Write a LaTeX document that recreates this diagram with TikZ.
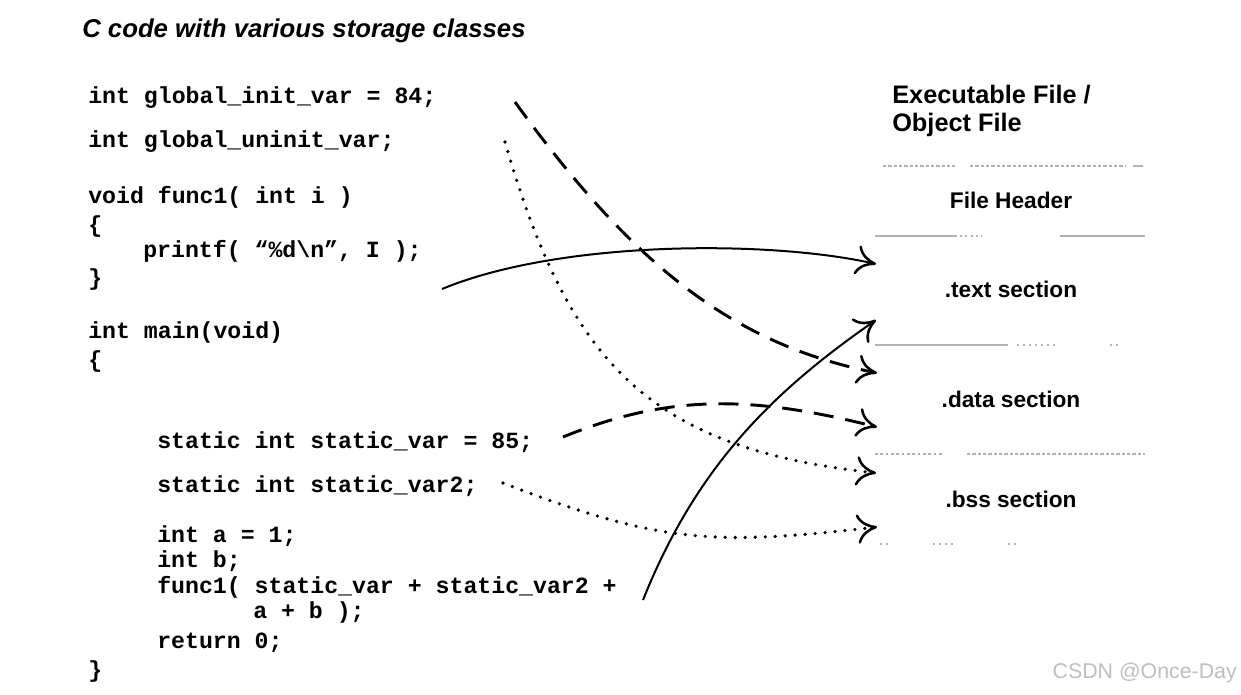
\documentclass[tikz,border=0pt]{standalone}
\usepackage{fontspec}
\setmainfont{Liberation Sans}
\setmonofont{Liberation Mono}
\usetikzlibrary{arrows.meta}
\begin{document}
\begin{tikzpicture}[x=0.75pt,y=-0.75pt,
  code/.style={anchor=base west, inner sep=0pt, font=\ttfamily\bfseries\fontsize{17.4}{20}\selectfont},
  sect/.style={anchor=base, inner sep=0pt, font=\bfseries\fontsize{17}{20}\selectfont},
  head/.style={anchor=base west, inner sep=0pt, font=\bfseries\fontsize{19}{22}\selectfont},
  sepline/.style={draw=gray!60, line width=0.8pt},
  tip/.style={-{To[length=15pt,width=22pt,line width=1.9pt]}},
  solidarrow/.style={tip, line width=1.5pt},
  dashedarrow/.style={tip, line width=2.2pt, dash pattern=on 15pt off 9pt},
  dottedarrow/.style={tip, line width=2.7pt, line cap=round, dash pattern=on 0pt off 7.5pt}
]
\useasboundingbox (0,0) rectangle (1241,694);
\fill[white] (0,0) rectangle (1241,694);

% title
\node[anchor=base west, inner sep=0pt, font=\bfseries\itshape\fontsize{19.3}{22}\selectfont] (title) at (82,37) {C code with various storage classes};

% code
\node[code] (c1) at (88,103) {int global\_init\_var = 84;};
\node[code] (c2) at (88,147) {int global\_uninit\_var;};
\node[code] (c3) at (88,203) {void func1( int i )};
\node[code] (c4) at (88,232) {\{};
\node[code] (c5) at (143,257) {printf( “\%d\textbackslash n”, I );};
\node[code] (c6) at (88,285) {\}};
\node[code] (c7) at (88,338) {int main(void)};
\node[code] (c8) at (88,367) {\{};
\node[code] (c9) at (157,448) {static int static\_var = 85;};
\node[code] (c10) at (157,492) {static int static\_var2;};
\node[code] (c11) at (157,542) {int a = 1;};
\node[code] (c12) at (157,567) {int b;};
\node[code] (c13) at (157,593) {func1( static\_var + static\_var2 +};
\node[code] (c14) at (253,618) {a + b );};
\node[code] (c15) at (157,648) {return 0;};
\node[code] (c16) at (88,677) {\}};

% executable file
\node[head] (exe1) at (892,103) {Executable File /};
\node[head] (exe2) at (892,131) {Object File};

\node[sect] (hdr) at (1011,208) {File Header};
\node[sect] (txt) at (1011,297) {.text section};
\node[sect] (dat) at (1011,407) {.data section};
\node[sect] (bss) at (1011,507) {.bss section};

% separators
\draw[sepline, dash pattern=on 2.5pt off 1.5pt] (883,166) -- (955,166);
\draw[sepline, dash pattern=on 2.5pt off 1.5pt] (970,166) -- (1125,166);
\draw[sepline] (1133,166) -- (1143,166);
\draw[sepline] (875,236) -- (957,236);
\draw[sepline, dash pattern=on 1.5pt off 2.5pt] (960,236) -- (982,236);
\draw[sepline] (1060,236) -- (1145,236);
\draw[sepline] (875,345) -- (1008,345);
\draw[sepline, dash pattern=on 1.5pt off 3pt] (1017,345) -- (1057,345);
\draw[sepline, dash pattern=on 1.5pt off 3pt] (1110,345) -- (1120,345);
\draw[sepline, dash pattern=on 2pt off 2pt] (875,454) -- (942,454);
\draw[sepline, dash pattern=on 2.5pt off 1.5pt] (967,454) -- (1145,454);
\draw[sepline, dash pattern=on 1.5pt off 3pt] (880,544) -- (892,544);
\draw[sepline, dash pattern=on 1.5pt off 3pt] (933,544) -- (957,544);
\draw[sepline, dash pattern=on 1.5pt off 3pt] (1008,544) -- (1018,544);

% connector ends
\coordinate (s1) at (442,289);  \coordinate (t1) at (876,264);
\coordinate (s2) at (515,102);  \coordinate (t2) at (877,373);
\coordinate (s3) at (505,142);  \coordinate (t3) at (876,473);
\coordinate (s4) at (563,437);  \coordinate (t4) at (877,427);
\coordinate (s5) at (503,483);  \coordinate (t5) at (877,527);
\coordinate (s6) at (643,600);  \coordinate (t6) at (876,320);

\draw[solidarrow] (s1) .. controls (560,240) and (770,240) .. (t1);
\draw[dashedarrow] (s2) .. controls (640,275) and (740,345) .. (t2);
\draw[dottedarrow] (s3) .. controls (569,363) and (648,448) .. (t3);
\draw[dashedarrow] (s4) .. controls (673,392) and (757,397) .. (t4);
\draw[dottedarrow] (s5) .. controls (663,545) and (717,545) .. (t5);
\draw[solidarrow] (s6) .. controls (695,470) and (769,394) .. (t6);

% watermark
\node[anchor=base east, inner sep=0pt, text=gray!50, font=\fontsize{16}{18}\selectfont] (wm) at (1237,678) {CSDN @Once-Day};
\end{tikzpicture}
\end{document}
